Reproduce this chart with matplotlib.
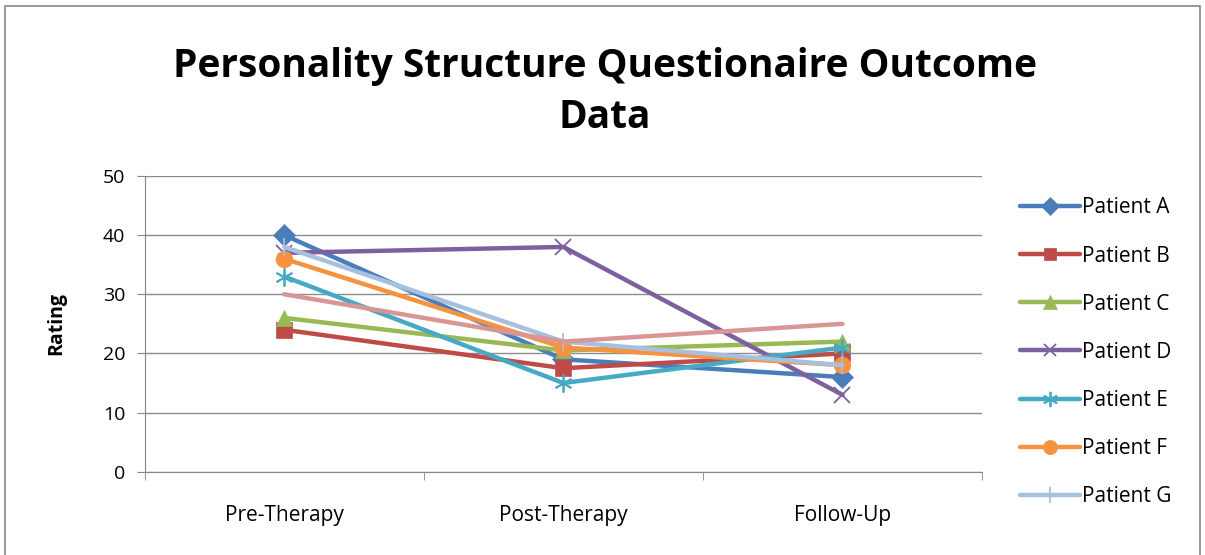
import matplotlib
matplotlib.use("Agg")
import matplotlib.pyplot as plt
from matplotlib.patches import Rectangle

# --- данные -----------------------------------------------------------------
stages = ["Pre-Therapy", "Post-Therapy", "Follow-Up"]
patient_a = [40, 19, 16]
patient_b = [24, 17.5, 20]
patient_c = [26, 20.5, 22]
patient_d = [37, 38, 13]
patient_e = [33, 15, 21]
patient_f = [36, 21, 18]
patient_g = [38, 22, 18]
patient_h = [30, 22, 25]  # в легенде не виден (обрезан)
y_ticks = [0, 10, 20, 30, 40, 50]

series = [
    ("Patient A", patient_a, "#4A7EBB", "D", 11),
    ("Patient B", patient_b, "#BE4B48", "s", 11),
    ("Patient C", patient_c, "#98B954", "^", 12),
    ("Patient D", patient_d, "#7D60A0", "x", 11),
    ("Patient E", patient_e, "#46AAC5", (6, 2, 0), 13),
    ("Patient F", patient_f, "#F69240", "o", 12),
    ("Patient G", patient_g, "#A7C0DE", "|", 13),
    ("Patient H", patient_h, "#DA9694", None, 0),
]

plt.rcParams["font.family"] = ["Open Sans", "DejaVu Sans"]

fig = plt.figure(figsize=(12.05, 5.55), dpi=100)
ax = fig.add_axes([0.120, 0.150, 0.695, 0.533])

x = list(range(len(stages)))
handles = []
for name, vals, color, marker, ms in series:
    line, = ax.plot(x, vals, color=color, lw=3.2, marker=marker, ms=ms,
                    mew=1.3 if marker in ("x", "|", (6, 2, 0)) else 0.5,
                    mec=color, solid_capstyle="round", label=name)
    if name != "Patient H":
        handles.append(line)

ax.set_xlim(-0.5, len(stages) - 0.5)
ax.set_ylim(0, 50)
ax.set_yticks(y_ticks)
ax.set_xticks(x)
ax.set_xticklabels(stages)
ax.set_xticks([i - 0.5 for i in range(len(stages) + 1)], minor=True)
ax.tick_params(axis="x", which="major", length=0, pad=24, labelsize=15)
ax.tick_params(axis="x", which="minor", length=6, color="#868686", direction="out")
ax.tick_params(axis="y", length=6, color="#868686", direction="out", labelsize=14, pad=8)
ax.grid(axis="y", color="#8c8c8c", lw=1)
ax.set_axisbelow(True)
for side in ("top", "right"):
    ax.spines[side].set_visible(False)
for side in ("left", "bottom"):
    ax.spines[side].set_color("#868686")

ax.set_ylabel("Rating", fontsize=14, fontweight="bold", labelpad=26)

fig.text(0.502, 0.835, "Personality Structure Questionaire Outcome\nData",
         ha="center", va="center", fontsize=28, fontweight="bold", linespacing=1.4)

ax.legend(handles=handles, loc="center left", bbox_to_anchor=(1.035, 0.404),
          frameon=False, fontsize=15, handlelength=2.9, handletextpad=0.1,
          labelspacing=1.3, borderaxespad=0, markerscale=0.85)

# рамка области диаграммы
fig.patches.append(Rectangle((0.004, -0.01), 0.992, 1.0, transform=fig.transFigure,
                             fill=False, edgecolor="#868686", lw=1.2))

fig.savefig("out.png", dpi=100)
